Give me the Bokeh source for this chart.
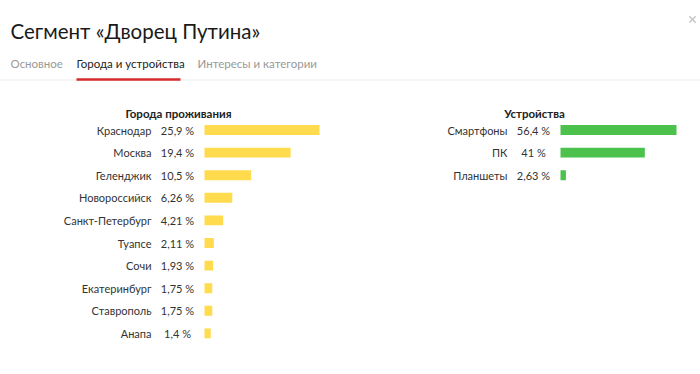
from bokeh.plotting import figure
from bokeh.models import Range1d
from bokeh.core.properties import value
from bokeh.embed import file_html
from bokeh.resources import INLINE

# ---------------- data ----------------
title_text = "Сегмент «Дворец Путина»"
tabs = ["Основное", "Города и устройства", "Интересы и категории"]
active_tab = 1
city_header = "Города проживания"
cities = ["Краснодар", "Москва", "Геленджик", "Новороссийск", "Санкт-Петербург",
          "Туапсе", "Сочи", "Екатеринбург", "Ставрополь", "Анапа"]
city_pct = [25.9, 19.4, 10.5, 6.26, 4.21, 2.11, 1.93, 1.75, 1.75, 1.4]
device_header = "Устройства"
devices = ["Смартфоны", "ПК", "Планшеты"]
device_pct = [56.4, 41, 2.63]


def fmt(v):
    return f"{v:g}".replace(".", ",") + " %"


# ---------------- layout (page pixel coordinates) ----------------
W, H = 700, 374
X0, Y0 = 0, 0
X1, Y1 = X0 + W, Y0 + H
FONT = value("Lato")

ROW0, ROW_STEP = 129.5, 22.6
CITY_BAR_X, CITY_BAR_MAXW = 204.0, 115.0
DEV_BAR_X, DEV_BAR_MAXW = 560.0, 116.0

p = figure(width=W, height=H, x_range=Range1d(X0, X1), y_range=Range1d(Y1, Y0),
           output_backend="svg", toolbar_location=None, min_border=0,
           background_fill_color="white", border_fill_color="white")
p.axis.visible = False
p.grid.visible = False
p.outline_line_color = None

# row scale: row index -> vertical position
p.extra_y_ranges = {"rows": Range1d((Y1 - ROW0) / ROW_STEP, (Y0 - ROW0) / ROW_STEP)}
# value scales for the two bar charts
cs = CITY_BAR_MAXW / max(city_pct)
ds = DEV_BAR_MAXW / max(device_pct)
p.extra_x_ranges = {
    "cities": Range1d((X0 - CITY_BAR_X) / cs, (X1 - CITY_BAR_X) / cs),
    "devices": Range1d((X0 - DEV_BAR_X) / ds, (X1 - DEV_BAR_X) / ds),
}

# ---------------- header ----------------
p.text(x=10, y=30, text=[title_text], text_font=FONT, text_font_size="20.5px",
       text_color="#1a1a1a", text_baseline="alphabetic", text_align="left")
p.scatter(x=[692], y=[19], marker="x", size=9, line_color="#c4c4c4", line_width=1.3)

tab_x = [10, 76, 197]
tab_colors = ["#222222" if i == active_tab else "#999999" for i in range(len(tabs))]
p.text(x=tab_x, y=62.5, text=tabs, text_font=FONT, text_font_size="11.5px",
       text_color=tab_colors, text_baseline="alphabetic", text_align="left")
p.segment(x0=[X0], y0=[79.5], x1=[X1], y1=[79.5], line_color="#ebebeb", line_width=1)
p.segment(x0=[76], y0=[79], x1=[180], y1=[79], line_color="#d52b2b", line_width=2.5)

# ---------------- cities ----------------
ci = list(range(len(cities)))
p.text(x=178, y=113, text=[city_header], text_font=FONT, text_font_size="11.5px",
       text_font_style="bold", text_color="#222222", text_align="center",
       text_baseline="alphabetic")
p.text(x=151, y=ci, text=cities, text_font=FONT, text_font_size="11px",
       text_color="#333333", text_align="right", text_baseline="middle",
       y_range_name="rows")
p.text(x=177, y=ci, text=[fmt(v) for v in city_pct], text_font=FONT,
       text_font_size="11px", text_color="#333333", text_align="center",
       text_baseline="middle", y_range_name="rows")
p.hbar(y=ci, left=0, right=city_pct, height=0.44, fill_color="#ffdb4d",
       line_color=None, x_range_name="cities", y_range_name="rows")

# ---------------- devices ----------------
di = list(range(len(devices)))
p.text(x=534, y=113, text=[device_header], text_font=FONT, text_font_size="11.5px",
       text_font_style="bold", text_color="#222222", text_align="center",
       text_baseline="alphabetic")
p.text(x=507, y=di, text=devices, text_font=FONT, text_font_size="11px",
       text_color="#333333", text_align="right", text_baseline="middle",
       y_range_name="rows")
p.text(x=533, y=di, text=[fmt(v) for v in device_pct], text_font=FONT,
       text_font_size="11px", text_color="#333333", text_align="center",
       text_baseline="middle", y_range_name="rows")
p.hbar(y=di, left=0, right=device_pct, height=0.44, fill_color="#4cc14c",
       line_color=None, x_range_name="devices", y_range_name="rows")

open("out.html", "w").write(file_html(p, INLINE))
